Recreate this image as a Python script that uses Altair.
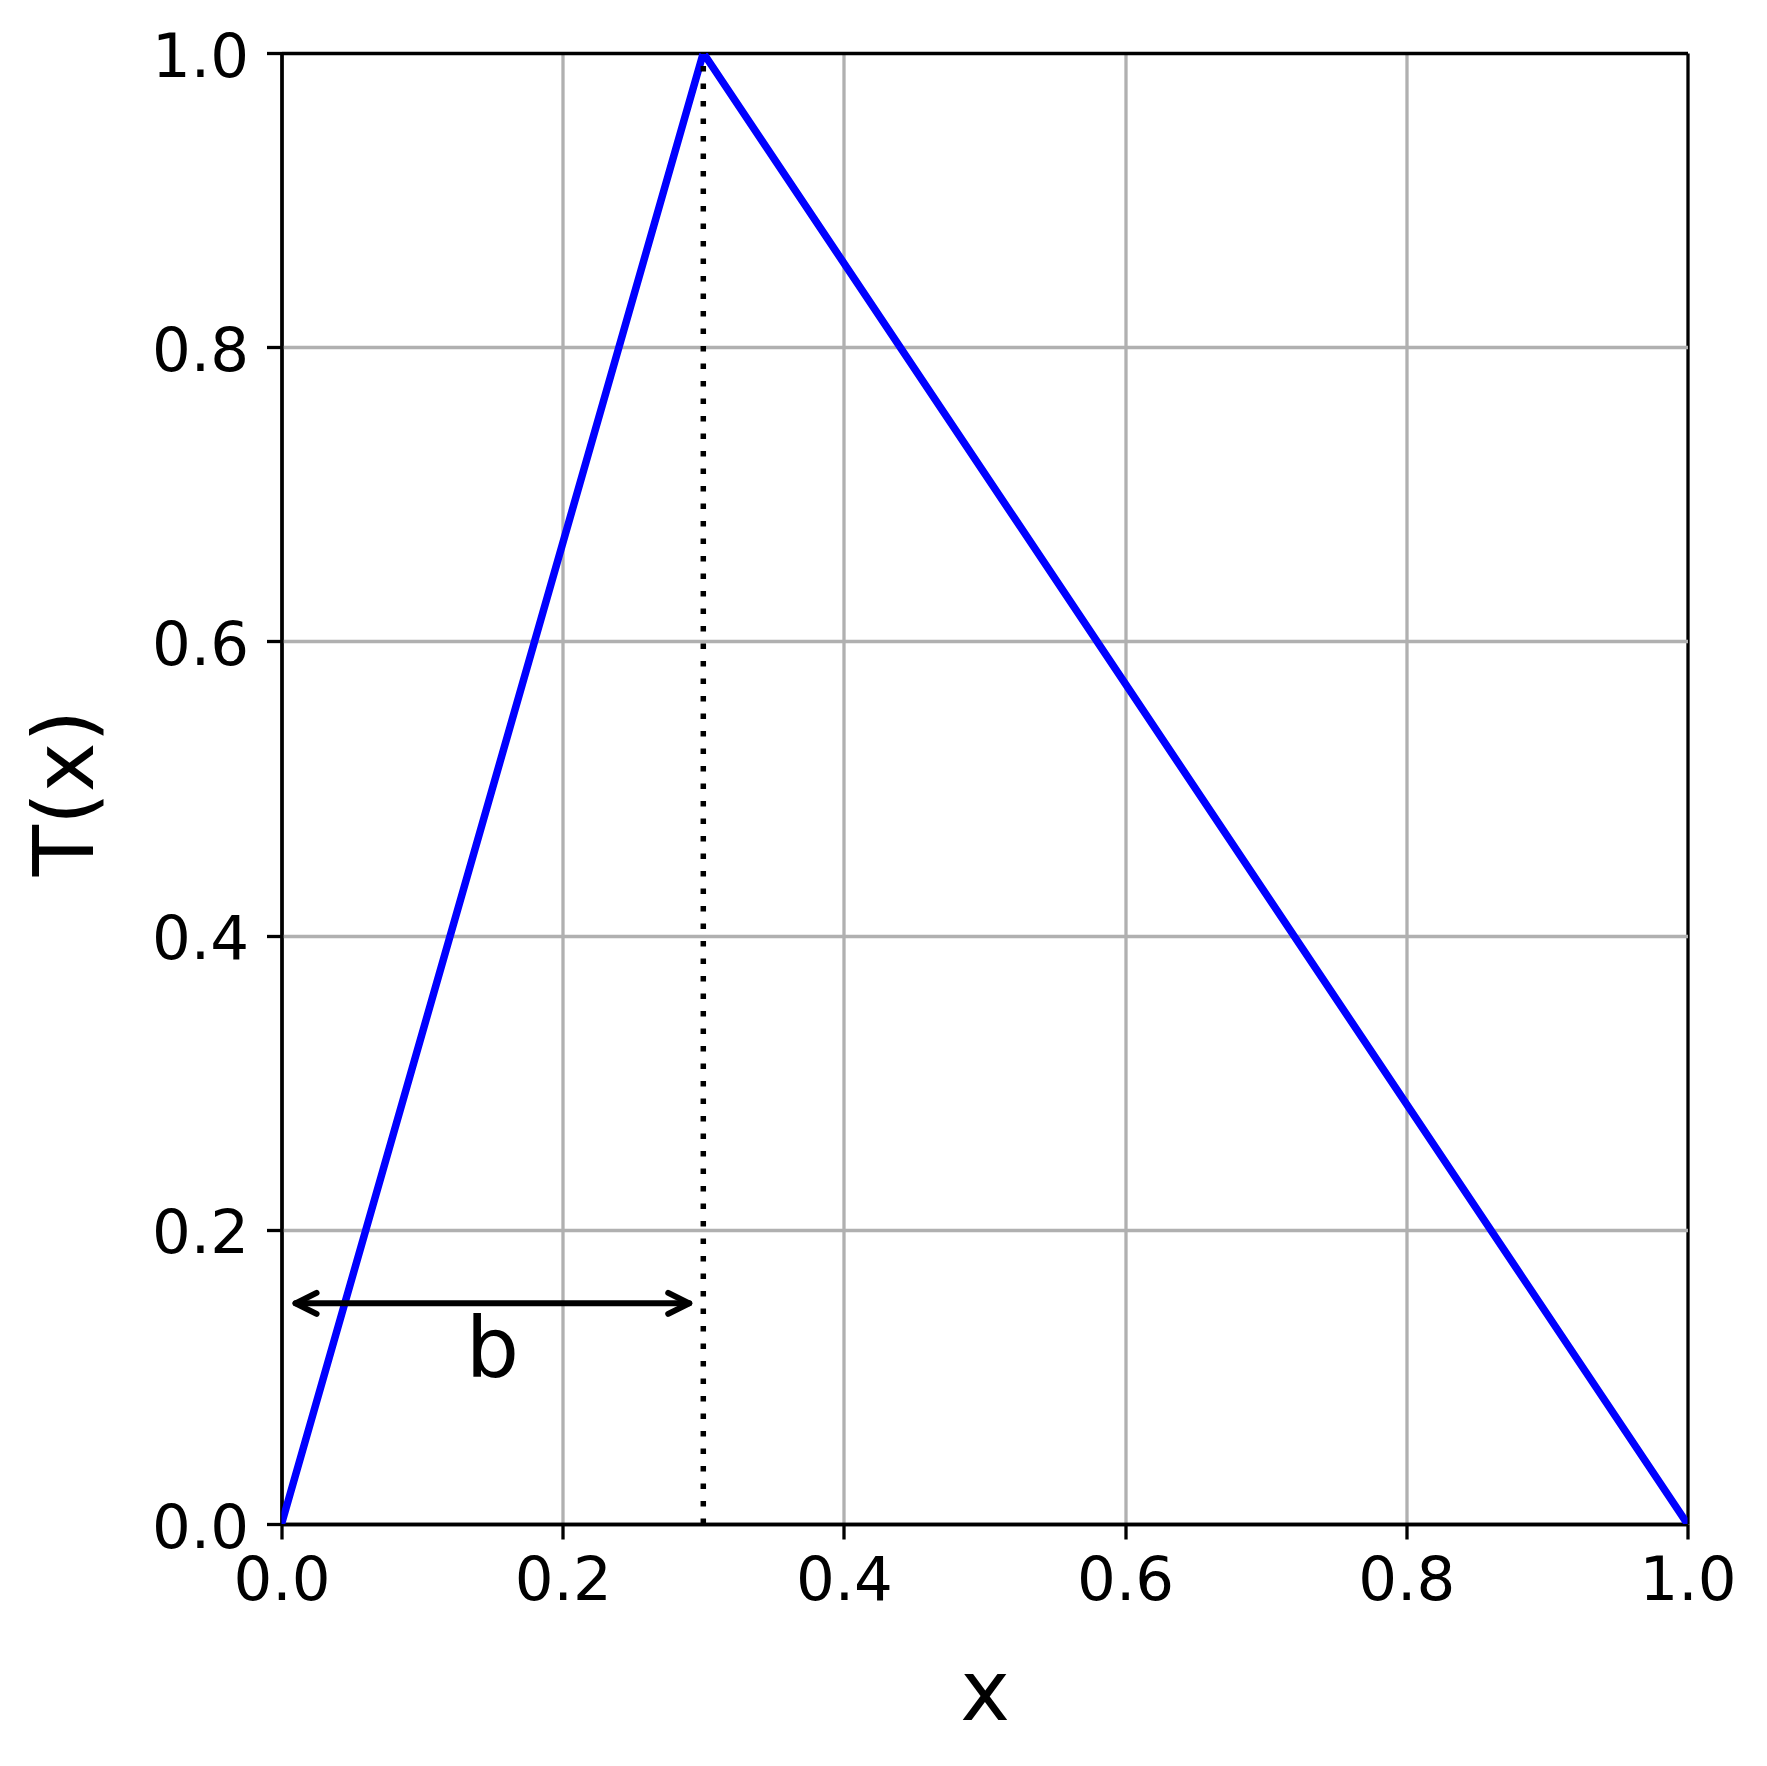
import altair as alt
import pandas as pd

# Piecewise linear tent map T(x)
line_x = [0.0, 0.3, 1.0]
line_y = [0.0, 1.0, 0.0]

# dotted vertical line at the peak
peak_x = [0.3, 0.3]
peak_y = [0.0, 1.0]

# double-headed arrow labelled "b"
arrow_x = [0.01, 0.29]
arrow_y = [0.15, 0.15]
label_x = [0.15]
label_y = [0.1]
label_text = ["b"]

ticks = [0.0, 0.2, 0.4, 0.6, 0.8, 1.0]

FONT = "DejaVu Sans"
W, H = 1406, 1471

df_line = pd.DataFrame({"x": line_x, "y": line_y})
df_peak = pd.DataFrame({"x": peak_x, "y": peak_y})
df_arrow = pd.DataFrame({"x": arrow_x, "y": arrow_y})
df_heads = pd.DataFrame({
    "x": arrow_x,
    "y": arrow_y,
    "side": ["left", "right"],
})
df_label = pd.DataFrame({"x": label_x, "y": label_y, "t": label_text})

grid_color = alt.condition(
    "datum.value <= 0 || datum.value >= 1", alt.value("black"), alt.value("#b0b0b0")
)

x_axis = alt.Axis(
    values=ticks, format=".1f", title="x",
    labelFont=FONT, labelFontSize=61, labelColor="black",
    labelPadding=12, labelFlush=False, labelOverlap=False,
    tickSize=15, tickWidth=3.3, tickColor="black",
    domainColor="black", domainWidth=3.3,
    grid=True, gridColor=grid_color, gridWidth=3.3,
    titleFont=FONT, titleFontSize=84, titleFontWeight="normal", titleColor="black",
    titleX=W / 2, titleY=195, titleBaseline="alphabetic", titleAlign="center",
)
y_axis = alt.Axis(
    values=ticks, format=".1f", title="T(x)",
    labelFont=FONT, labelFontSize=61, labelColor="black",
    labelPadding=18, labelFlush=False, labelOverlap=False, labelOffset=5,
    tickSize=15, tickWidth=3.3, tickColor="black",
    domainColor="black", domainWidth=3.3,
    grid=True, gridColor=grid_color, gridWidth=3.3,
    titleFont=FONT, titleFontSize=84, titleFontWeight="normal", titleColor="black",
    titleX=-189.5, titleY=739.5, titleBaseline="alphabetic", titleAlign="center",
    titleAngle=270,
)

xs = alt.Scale(domain=[0, 1], nice=False, zero=False)
ys = alt.Scale(domain=[0, 1], nice=False, zero=False)

base_x = alt.X("x:Q", scale=xs, axis=x_axis)
base_y = alt.Y("y:Q", scale=ys, axis=y_axis)

tent = alt.Chart(df_line).mark_line(color="#0000ff", strokeWidth=7.5, clip=True).encode(
    x=base_x, y=base_y
)

peak = alt.Chart(df_peak).mark_line(
    color="black", strokeWidth=5.5, strokeDash=[5.5, 12], strokeCap="butt", clip=True
).encode(x="x:Q", y="y:Q")

shaft = alt.Chart(df_arrow).mark_line(
    color="black", strokeWidth=6, strokeCap="round"
).encode(x="x:Q", y="y:Q")

heads = alt.Chart(df_heads).mark_point(
    filled=False, color="black", strokeWidth=6, strokeCap="round", strokeJoin="round",
    size=1764, opacity=1,
).encode(
    x="x:Q", y="y:Q",
    shape=alt.Shape(
        "side:N",
        scale=alt.Scale(
            domain=["left", "right"],
            range=["M 1 -0.5 L 0 0 L 1 0.5", "M -1 -0.5 L 0 0 L -1 0.5"],
        ),
        legend=None,
    ),
)

label = alt.Chart(df_label).mark_text(
    font=FONT, fontSize=84, color="black", align="center", baseline="alphabetic"
).encode(x="x:Q", y="y:Q", text="t:N")

chart = alt.layer(tent, peak, shaft, heads, label).properties(
    width=W, height=H,
    autosize=alt.AutoSizeParams(type="none"),
    padding={"left": 273.5, "top": 45, "right": 71.5, "bottom": 230},
).configure_view(
    stroke="black", strokeWidth=3.3
).configure(background="white")

chart.save("out.html", embed_options={"renderer": "svg", "actions": False})
